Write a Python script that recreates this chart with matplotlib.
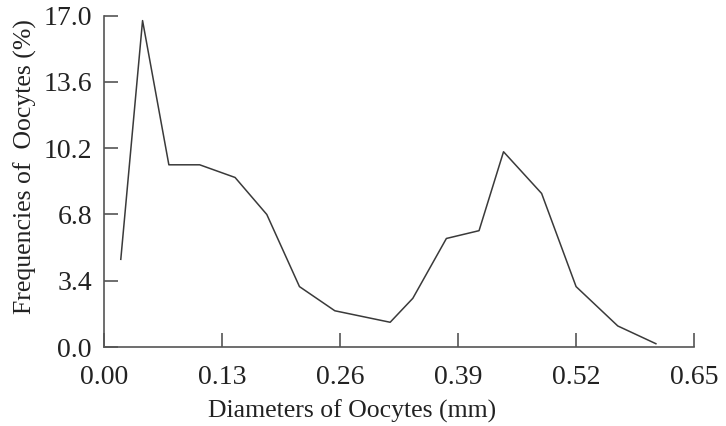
import matplotlib.pyplot as plt
import numpy as np

# oocyte diameter classes (mm) and their frequencies (%)
diameters = [0.018, 0.042, 0.071, 0.105, 0.144, 0.179, 0.215, 0.254,
             0.315, 0.340, 0.377, 0.413, 0.440, 0.482, 0.520, 0.566, 0.608]
frequencies = [4.5, 16.75, 9.35, 9.35, 8.7, 6.8, 3.1, 1.86,
               1.27, 2.5, 5.57, 5.97, 10.02, 7.88, 3.1, 1.08, 0.17]

x_ticks = [0.00, 0.13, 0.26, 0.39, 0.52, 0.65]
y_ticks = [0.0, 3.4, 6.8, 10.2, 13.6, 17.0]

plt.rcParams['font.family'] = ['Liberation Serif', 'DejaVu Serif']

fig = plt.figure(figsize=(7.26, 4.26), dpi=100)
ax = fig.add_axes([0.1439, 0.1854, 0.812, 0.7777])

ax.plot(diameters, frequencies, color='#3a3a3a', linewidth=1.1)

ax.set_xlim(0, 0.65)
ax.set_ylim(0, 17.0)
ax.set_xticks(x_ticks)
ax.set_xticklabels([f'{v:.2f}' for v in x_ticks])
ax.set_yticks(y_ticks)
ax.set_yticklabels([f'{v:.1f}' for v in y_ticks])

for side in ('top', 'right'):
    ax.spines[side].set_visible(False)
for side in ('left', 'bottom'):
    ax.spines[side].set_color('#555555')
    ax.spines[side].set_linewidth(1.2)

ax.tick_params(direction='in', length=10, width=1.2, color='#555555',
               labelsize=20, labelcolor='#222222')
ax.tick_params(axis='x', pad=13)
ax.tick_params(axis='y', pad=9)

fig.text(352 / 726, 1 - 411 / 426, 'Diameters of Oocytes (mm)', ha='center',
         va='center', fontsize=18.5, color='#222222')
fig.text(25 / 726, 1 - 167 / 426, 'Frequencies of  Oocytes (%)', ha='center',
         va='center', rotation=90, fontsize=18.5, color='#222222')

fig.savefig('out.png', dpi=100)
